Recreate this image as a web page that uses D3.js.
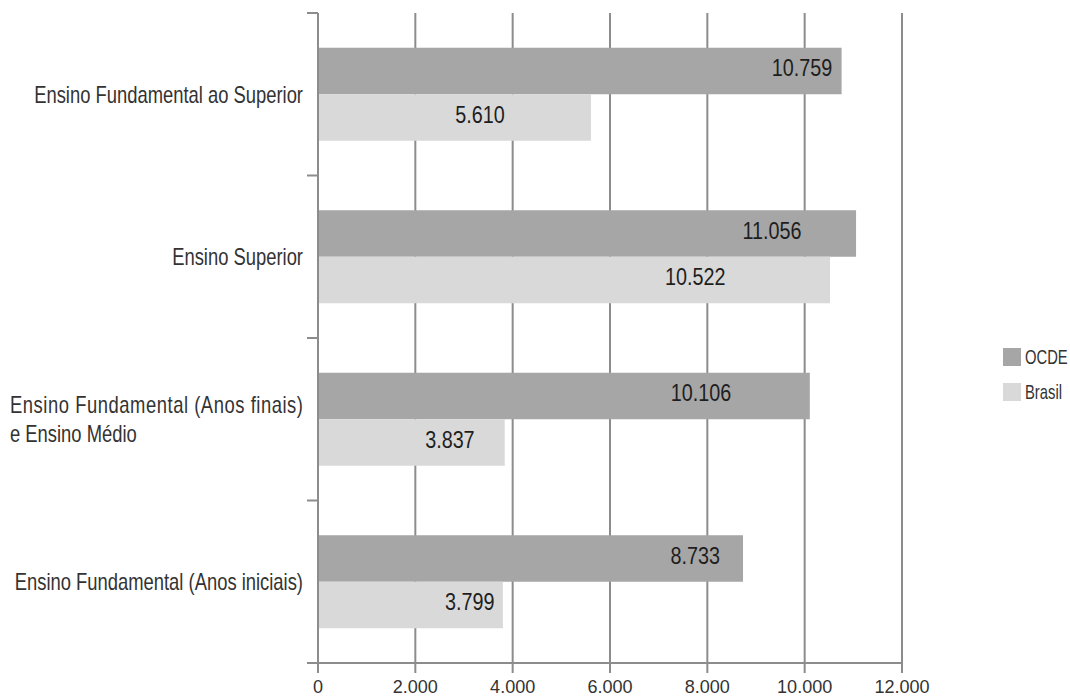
<!DOCTYPE html>
<html>
<head>
<meta charset="utf-8">
<script src="https://cdn.jsdelivr.net/npm/d3@7"></script>
<style>
  body { margin: 0; background: #fff; }
  text { font-family: "Liberation Sans", Arial, sans-serif; }
</style>
</head>
<body>
<script>
  // Dados do gráfico
  const categories = [
    "Ensino Fundamental ao Superior",
    "Ensino Superior",
    "Ensino Fundamental (Anos finais)|e Ensino Médio",
    "Ensino Fundamental (Anos iniciais)"
  ];
  const seriesNames = ["OCDE", "Brasil"];
  const ocde = [10759, 11056, 10106, 8733];
  const brasil = [5610, 10522, 3837, 3799];
  // onde cada rótulo de valor foi colocado (em unidades do eixo)
  const ocdeLabelAt = [9945, 9330, 7870, 7750];
  const brasilLabelAt = [3330, 7750, 2710, 3120];
  const xTicks = [0, 2000, 4000, 6000, 8000, 10000, 12000];

  const colors = { OCDE: "#a6a6a6", Brasil: "#d9d9d9" };
  const gridColor = "#8c8c8c";
  const narrow = 0.8; // a fonte original é condensada

  const width = 1070, height = 696;
  const margin = { top: 13, right: 168, bottom: 33, left: 318 };

  const svg = d3.select("body").append("svg")
    .attr("width", width)
    .attr("height", height);

  /***** Escalas *****/
  const x = d3.scaleLinear().domain([0, 12000]).range([margin.left, width - margin.right]);
  const y = d3.scaleBand().domain(categories).range([margin.top, height - margin.bottom]).padding(0);
  const ySub = d3.scaleBand().domain(seriesNames).range([0, y.bandwidth()])
    .paddingInner(0).paddingOuter(0.747);

  const fmt = d3.formatLocale({ decimal: ",", thousands: ".", grouping: [3], currency: ["R$", ""] }).format(",d");

  // texto comprimido na horizontal
  function squeezed(sel, px, py, sx) {
    return sel.append("text")
      .attr("transform", "translate(" + px + "," + py + ") scale(" + sx + ",1)");
  }

  const rows = categories.map((c, i) => ({
    cat: c,
    values: [
      { key: "OCDE", value: ocde[i], at: ocdeLabelAt[i] },
      { key: "Brasil", value: brasil[i], at: brasilLabelAt[i] }
    ]
  }));

  const yBottom = height - margin.bottom;

  // Linhas de grade verticais (atrás das barras)
  svg.append("g")
    .selectAll("line")
    .data(xTicks)
    .join("line")
    .attr("x1", d => x(d)).attr("x2", d => x(d))
    .attr("y1", margin.top).attr("y2", yBottom + 10)
    .attr("stroke", gridColor)
    .attr("stroke-width", 2);

  // Barras
  const groups = svg.append("g")
    .selectAll("g")
    .data(rows)
    .join("g")
    .attr("transform", d => "translate(0," + y(d.cat) + ")");

  groups.selectAll("rect")
    .data(d => d.values)
    .join("rect")
    .attr("x", x(0))
    .attr("y", d => ySub(d.key))
    .attr("width", d => x(d.value) - x(0))
    .attr("height", ySub.bandwidth())
    .attr("fill", d => colors[d.key]);

  groups.each(function(r) {
    const g = d3.select(this);
    r.values.forEach(v => {
      squeezed(g, x(v.at), ySub(v.key) + ySub.bandwidth() / 2 - 3, 0.86)
        .attr("dy", "0.36em")
        .attr("text-anchor", "middle")
        .attr("font-size", 23)
        .attr("fill", "#1e1e1e")
        .text(fmt(v.value));
    });
  });

  // Eixo Y (linha e marcas nas divisões das categorias)
  svg.append("line")
    .attr("x1", x(0)).attr("x2", x(0))
    .attr("y1", margin.top).attr("y2", yBottom + 10)
    .attr("stroke", gridColor).attr("stroke-width", 2);

  const bounds = categories.map(c => y(c)).concat([yBottom]);
  svg.append("g")
    .selectAll("line")
    .data(bounds)
    .join("line")
    .attr("x1", x(0) - 11).attr("x2", x(0))
    .attr("y1", d => d).attr("y2", d => d)
    .attr("stroke", gridColor).attr("stroke-width", 2);

  // Eixo X
  svg.append("line")
    .attr("x1", x(0) - 11).attr("x2", x(12000))
    .attr("y1", yBottom).attr("y2", yBottom)
    .attr("stroke", gridColor).attr("stroke-width", 2);

  const xAxis = svg.append("g");
  xTicks.forEach(t => {
    squeezed(xAxis, x(t), yBottom + 29.5, 0.95)
      .attr("text-anchor", "middle")
      .attr("font-size", 19)
      .attr("fill", "#333")
      .text(fmt(t));
  });

  // Rótulos das categorias
  const yAxis = svg.append("g");
  const labelRight = x(0) - 15;
  categories.forEach(c => {
    const lines = c.split("|");
    const lh = 29.5;
    const cy = y(c) + y.bandwidth() / 2 - (lines.length - 1) * lh / 2;
    const t = squeezed(yAxis, 0, 0, narrow)
      .attr("font-size", 23)
      .attr("fill", "#333");
    lines.forEach((l, i) => {
      t.append("tspan").attr("y", cy + i * lh).attr("dy", "0.36em").text(l);
    });
    // bloco alinhado à direita, linhas alinhadas à esquerda (a primeira justificada)
    const tspans = t.selectAll("tspan");
    let w = 0;
    tspans.each(function() { w = Math.max(w, this.getComputedTextLength()); });
    const left = Math.max(8 / narrow, labelRight / narrow - w);
    tspans.attr("x", left);
    if (lines.length > 1) {
      tspans.filter((d, i) => i === 0)
        .attr("textLength", (labelRight - 10) / narrow)
        .attr("lengthAdjust", "spacing")
        .attr("x", 10 / narrow);
      tspans.filter((d, i) => i > 0).attr("x", 10 / narrow);
    }
  });

  // Legenda
  const legend = svg.append("g")
    .selectAll("g")
    .data(seriesNames)
    .join("g")
    .attr("transform", (d, i) => "translate(1003," + (348 + i * 35) + ")");

  legend.append("rect")
    .attr("width", 18).attr("height", 18)
    .attr("fill", d => colors[d]);

  legend.each(function(d) {
    squeezed(d3.select(this), 22, 9, 0.74)
      .attr("dy", "0.36em")
      .attr("font-size", 20)
      .attr("fill", "#333")
      .text(d);
  });
</script>
</body>
</html>
